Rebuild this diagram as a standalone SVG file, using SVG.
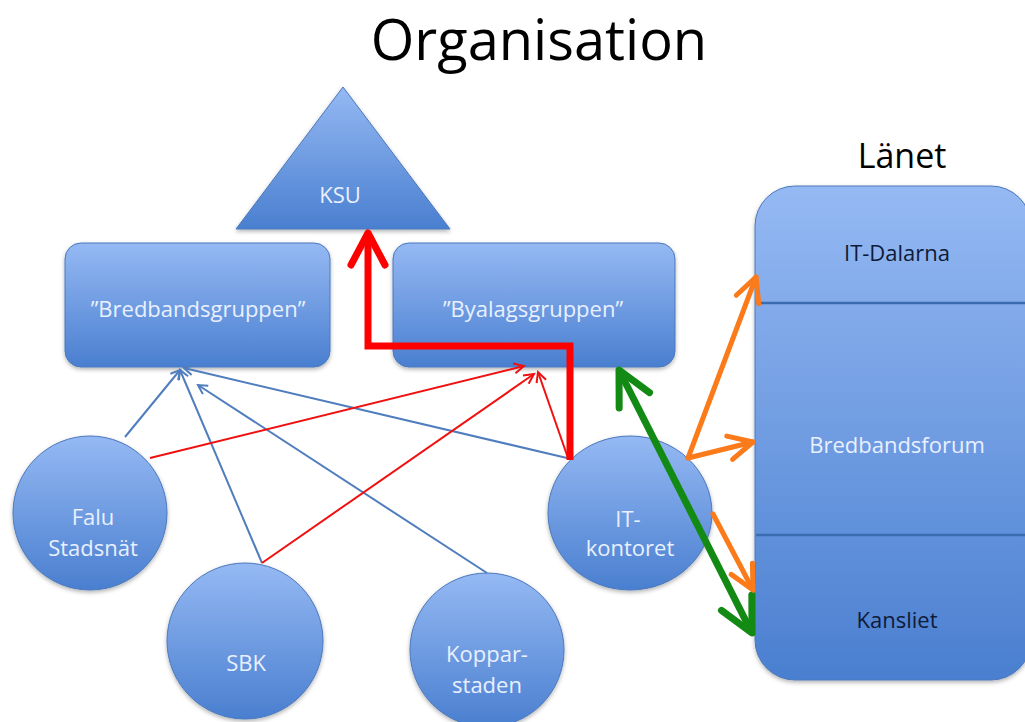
<svg xmlns="http://www.w3.org/2000/svg" width="1025" height="722" viewBox="0 0 1025 722">
<defs>
<linearGradient id="g" x1="0" y1="0" x2="0" y2="1">
<stop offset="0" stop-color="#95b9f3"/>
<stop offset="1" stop-color="#4a7fd0"/>
</linearGradient>
<filter id="sh" x="-10%" y="-10%" width="120%" height="125%">
<feDropShadow dx="0" dy="2" stdDeviation="2" flood-color="#000" flood-opacity="0.3"/>
</filter>
<marker id="mBlue" markerUnits="userSpaceOnUse" overflow="visible" orient="auto" refX="0" refY="0" markerWidth="1" markerHeight="1">
<path d="M-9,-5 L0,0 L-9,5" fill="none" stroke="#4f7dbd" stroke-width="2"/>
</marker>
<marker id="mRed" markerUnits="userSpaceOnUse" overflow="visible" orient="auto" refX="0" refY="0" markerWidth="1" markerHeight="1">
<path d="M-10,-5 L0,0 L-10,5" fill="none" stroke="#f01010" stroke-width="2"/>
</marker>
<marker id="mRedThick" markerUnits="userSpaceOnUse" overflow="visible" orient="auto" refX="0" refY="0" markerWidth="1" markerHeight="1">
<path d="M-32,-17 L0,0 L-32,17" fill="none" stroke="#ff0000" stroke-width="7" stroke-linecap="round" stroke-linejoin="round"/>
</marker>
<marker id="mGreen" markerUnits="userSpaceOnUse" overflow="visible" orient="auto-start-reverse" refX="0" refY="0" markerWidth="1" markerHeight="1">
<path d="M-34,-17 L0,0 L-34,17" fill="none" stroke="#138a13" stroke-width="7" stroke-linecap="round" stroke-linejoin="round"/>
</marker>
<marker id="mOrange" markerUnits="userSpaceOnUse" overflow="visible" orient="auto" refX="0" refY="0" markerWidth="1" markerHeight="1">
<path d="M-24,-12 L0,0 L-24,12" fill="none" stroke="#fb7a1a" stroke-width="5" stroke-linecap="round" stroke-linejoin="round"/>
</marker>
</defs>
<style>
.shape{fill:url(#g);stroke:#4a78bd;stroke-width:1;filter:url(#sh)}
.lbl{font-family:"Open Sans","Liberation Sans",sans-serif;font-size:22px;fill:#e9f0ff;text-anchor:middle}
.dark{fill:#0e1b38}
.head{font-family:"Open Sans","Liberation Sans",sans-serif;fill:#000;text-anchor:middle}
.blue{stroke:#4f7dbd;stroke-width:2;fill:none;marker-end:url(#mBlue)}
.red{stroke:#f01010;stroke-width:2;fill:none;marker-end:url(#mRed)}
.redThick{stroke:#ff0000;stroke-width:7;fill:none;stroke-linejoin:miter;marker-end:url(#mRedThick)}
.green{stroke:#138a13;stroke-width:7;fill:none;marker-start:url(#mGreen);marker-end:url(#mGreen)}
.orange{stroke:#fb7a1a;stroke-width:5;fill:none;stroke-linecap:round;marker-end:url(#mOrange)}
.div{stroke:#3c6cb0;stroke-width:2.5}
</style>
<rect width="1025" height="722" fill="#fff"/>
<text class="head" x="539" y="60" font-size="56">Organisation</text>
<text class="head" x="902" y="168" font-size="34">Länet</text>

<g id="ksu">
<polygon class="shape" points="343,87 236,229 450,229"/>
<text class="lbl" x="340" y="203">KSU</text>
</g>
<g id="bredbandsgruppen">
<rect class="shape" x="65" y="243" width="265" height="124" rx="16"/>
<text class="lbl" x="198" y="317">”Bredbandsgruppen”</text>
</g>
<g id="byalagsgruppen">
<rect class="shape" x="393" y="243" width="282" height="124" rx="16"/>
<text class="lbl" x="533" y="317">”Byalagsgruppen”</text>
</g>
<g id="lanet">
<rect class="shape" x="755" y="186" width="276" height="494" rx="40"/>
<line class="div" x1="756" y1="303" x2="1025" y2="303"/>
<line class="div" x1="756" y1="535" x2="1025" y2="535"/>
<text class="lbl dark" x="897" y="261">IT-Dalarna</text>
<text class="lbl" x="897" y="453">Bredbandsforum</text>
<text class="lbl dark" x="897" y="628">Kansliet</text>
</g>
<g id="falu">
<circle class="shape" cx="90" cy="513" r="77"/>
<text class="lbl" x="93" y="525">Falu</text>
<text class="lbl" x="93" y="556">Stadsnät</text>
</g>
<g id="sbk">
<circle class="shape" cx="245" cy="641" r="78"/>
<text class="lbl" x="246" y="671">SBK</text>
</g>
<g id="kopparstaden">
<circle class="shape" cx="487" cy="650" r="77"/>
<text class="lbl" x="487" y="662">Koppar-</text>
<text class="lbl" x="487" y="693">staden</text>
</g>
<g id="itkontoret">
<ellipse class="shape" cx="630" cy="513" rx="82" ry="77"/>
<text class="lbl" x="628" y="527">IT-</text>
<text class="lbl" x="630" y="556">kontoret</text>
</g>

<g id="connectors">
<line class="blue" x1="125" y1="437" x2="180" y2="370"/>
<line class="blue" x1="262" y1="563" x2="180" y2="370"/>
<line class="blue" x1="567" y1="458" x2="184" y2="368"/>
<line class="blue" x1="487" y1="573" x2="198" y2="385"/>
<line class="red" x1="150" y1="458" x2="524" y2="366"/>
<line class="red" x1="262" y1="563" x2="534" y2="374"/>
<line class="red" x1="568" y1="458" x2="538" y2="372"/>
<path class="redThick" d="M570,460 V346 H368 V233"/>
<line class="green" x1="619" y1="370" x2="752" y2="633"/>
<line class="orange" x1="688" y1="458" x2="756" y2="277"/>
<line class="orange" x1="688" y1="458" x2="753" y2="442"/>
<line class="orange" x1="713" y1="514" x2="753" y2="590"/>
</g>
</svg>
